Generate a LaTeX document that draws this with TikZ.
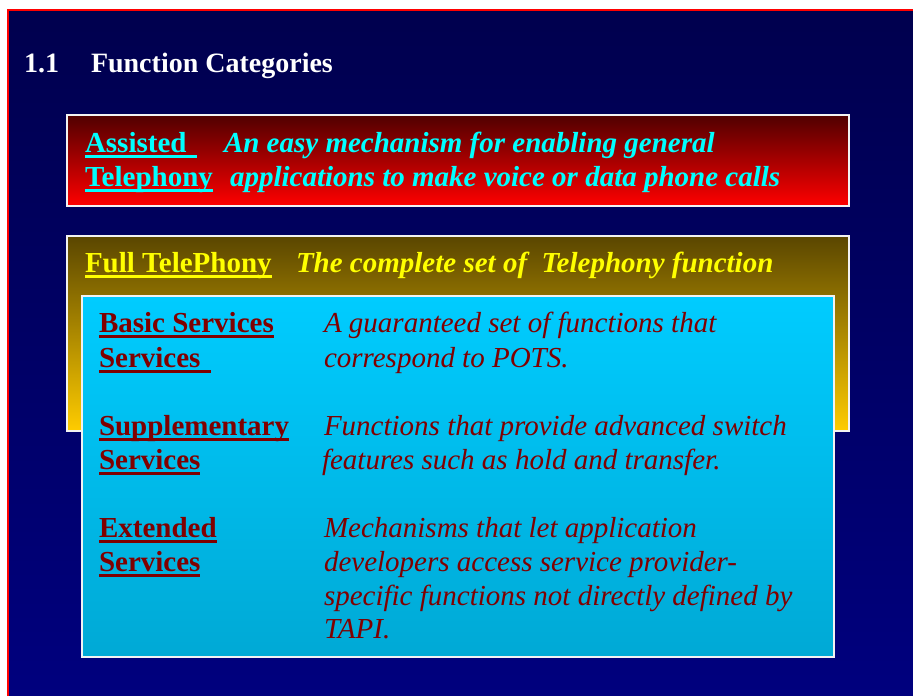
\documentclass[tikz,border=0pt]{standalone}
\usepackage{fontspec}
\setmainfont{Liberation Serif}
\definecolor{bgtop}{HTML}{00004E}
\definecolor{bgbot}{HTML}{00007E}
\definecolor{redtop}{HTML}{500000}
\definecolor{redbot}{HTML}{FF0000}
\definecolor{goldtop}{HTML}{5A4600}
\definecolor{goldbot}{HTML}{FFCC00}
\definecolor{cyantop}{HTML}{00CCFF}
\definecolor{cyanbot}{HTML}{00A9D5}
\definecolor{darkred}{HTML}{800000}
\definecolor{aqua}{HTML}{00FFFF}
\definecolor{lemon}{HTML}{FFFF00}
% underlined word: the rule sits at a fixed depth below the baseline
\newcommand\ulword[1]{\setbox0\hbox{#1}\rlap{\rule[-5.5pt]{\wd0}{2.5pt}}\box0}
\begin{document}
\begin{tikzpicture}[x=1pt,y=-1pt,
  every node/.style={inner sep=0pt,outer sep=0pt,anchor=base west},
  titletext/.style={text=white,font=\fontsize{28}{34}\selectfont\bfseries},
  headtext/.style={font=\fontsize{29}{34}\selectfont\bfseries},
  boldtext/.style={font=\fontsize{29}{34}\selectfont\bfseries\itshape},
  desctext/.style={font=\fontsize{29}{34}\selectfont\itshape},
  panel/.style={line width=1.5pt,draw=white!90!gray}]
\useasboundingbox (0,0) rectangle (913,696);
\fill[white] (0,0) rectangle (913,696);
% slide background and its red frame on the top and left edges
\shade[top color=bgtop,bottom color=bgbot] (8,10) rectangle (913,696);
\fill[red] (7,9) rectangle (913,11);
\fill[red] (7,9) rectangle (9,696);

\node[titletext] (num) at (24,72) {1.1};
\node[titletext] (title) at (91,72) {Function Categories};

% Assisted Telephony panel
\shadedraw[panel,top color=redtop,bottom color=redbot] (67,115) rectangle (849,206);
\node[headtext,text=aqua] (at1) at (85,152) {\ulword{Assisted\ \kern3pt}};
\node[headtext,text=aqua] (at2) at (85,186) {\ulword{Telephony}};
\node[boldtext,text=aqua] (ad1) at (224,152) {An easy mechanism for enabling general};
\node[boldtext,text=aqua] (ad2) at (230,186) {applications to make voice or data phone calls};

% Full Telephony panel
\shadedraw[panel,top color=goldtop,bottom color=goldbot] (67,236) rectangle (849,431);
\node[headtext,text=lemon] (ft) at (85,272) {\ulword{Full TelePhony}};
\node[boldtext,text=lemon] (fd) at (296,272) {The complete set of\ \ Telephony function};

% service categories panel
\shadedraw[panel,top color=cyantop,bottom color=cyanbot] (82,296) rectangle (834,657);
\node[headtext,text=darkred] (bs1) at (99,332) {\ulword{Basic Services}};
\node[headtext,text=darkred] (bs2) at (99,367) {\ulword{Services\ \kern3pt}};
\node[desctext,text=darkred] (bd1) at (324,332) {A guaranteed set of functions that};
\node[desctext,text=darkred] (bd2) at (324,367) {correspond to POTS.};

\node[headtext,text=darkred] (ss1) at (99,435) {\ulword{Supplementary}};
\node[headtext,text=darkred] (ss2) at (99,469) {\ulword{Services}};
\node[desctext,text=darkred] (sd1) at (324,435) {Functions that provide advanced switch};
\node[desctext,text=darkred] (sd2) at (322,469) {features such as hold and transfer.};

\node[headtext,text=darkred] (es1) at (99,537) {\ulword{Extended}};
\node[headtext,text=darkred] (es2) at (99,571) {\ulword{Services}};
\node[desctext,text=darkred] (ed1) at (324,537) {Mechanisms that let application};
\node[desctext,text=darkred] (ed2) at (324,571) {developers access service provider-};
\node[desctext,text=darkred] (ed3) at (324,605) {specific functions not directly defined by};
\node[desctext,text=darkred] (ed4) at (324,638) {TAPI.};
\end{tikzpicture}
\end{document}
